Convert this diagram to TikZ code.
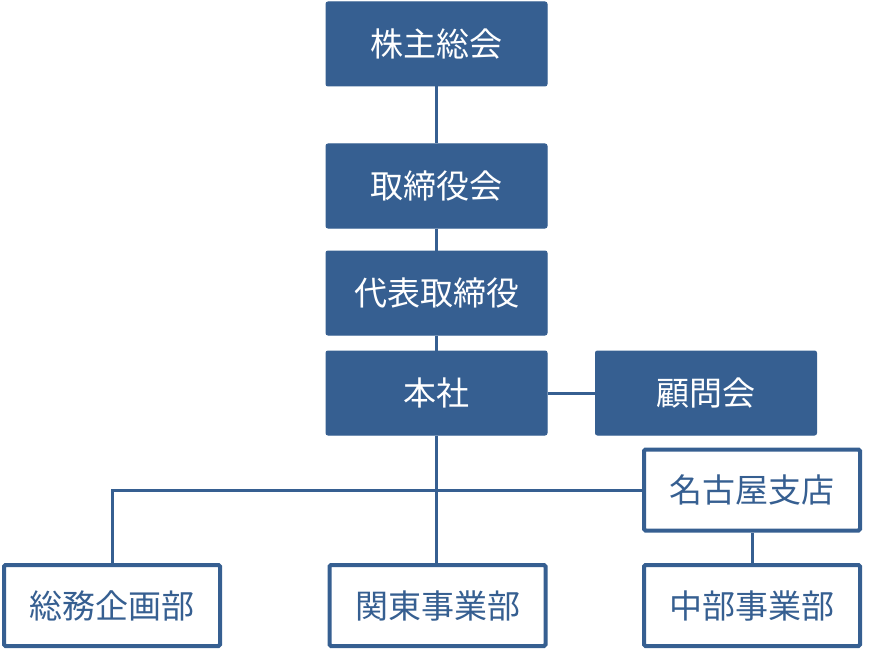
\documentclass[tikz,border=0pt]{standalone}
\usepackage{fontspec}
\setmainfont{Noto Sans CJK JP}
\usepackage{tikz}
\usetikzlibrary{positioning}
\usetikzlibrary{calc}
\definecolor{orgblue}{HTML}{365F91}
\tikzstyle{filledbox}=[rectangle,fill=orgblue,draw=orgblue,line width=1pt,rounded corners=2pt,minimum width=221pt,minimum height=84pt,inner sep=0pt,text=white,font=\fontsize{33}{36}\selectfont]
\tikzstyle{plainbox}=[rectangle,fill=white,draw=orgblue,line width=4pt,rounded corners=1.5pt,minimum width=216pt,minimum height=81pt,inner sep=0pt,text=orgblue,font=\fontsize{33}{36}\selectfont]
\tikzstyle{orgedge} = [draw,orgblue,line width=3pt]

\begin{document}
\begin{tikzpicture}[x=1pt,y=-1pt]
\useasboundingbox (0,0) rectangle (870,650);

    % upper chain of filled boxes
    \foreach \pos/\name/\label in {{(436.5,44)/S1/株主総会}, {(436.5,186)/S2/取締役会}, {(436.5,293)/S3/代表取締役}, {(436.5,393)/S4/本社}, {(706,393)/S5/顧問会}}
        \node[filledbox] (\name) at \pos {\label};

    % branch and departments
    \foreach \pos/\name/\label in {{(752,490)/B1/名古屋支店}, {(112,605.5)/D1/総務企画部}, {(437.5,605.5)/D2/関東事業部}, {(752,605.5)/D3/中部事業部}}
        \node[plainbox] (\name) at \pos {\label};

    % connect boxes
  \foreach \source/ \dest in {S1/S2, S2/S3, S3/S4, S4/S5, B1/D3}
          \path[orgedge] (\source) -- (\dest);
  \path[orgedge] (S4.south) -- (S4.south |- D2.north);
  \path[orgedge] (B1.west) -| (D1.north);

   \end{tikzpicture}
\end{document}
